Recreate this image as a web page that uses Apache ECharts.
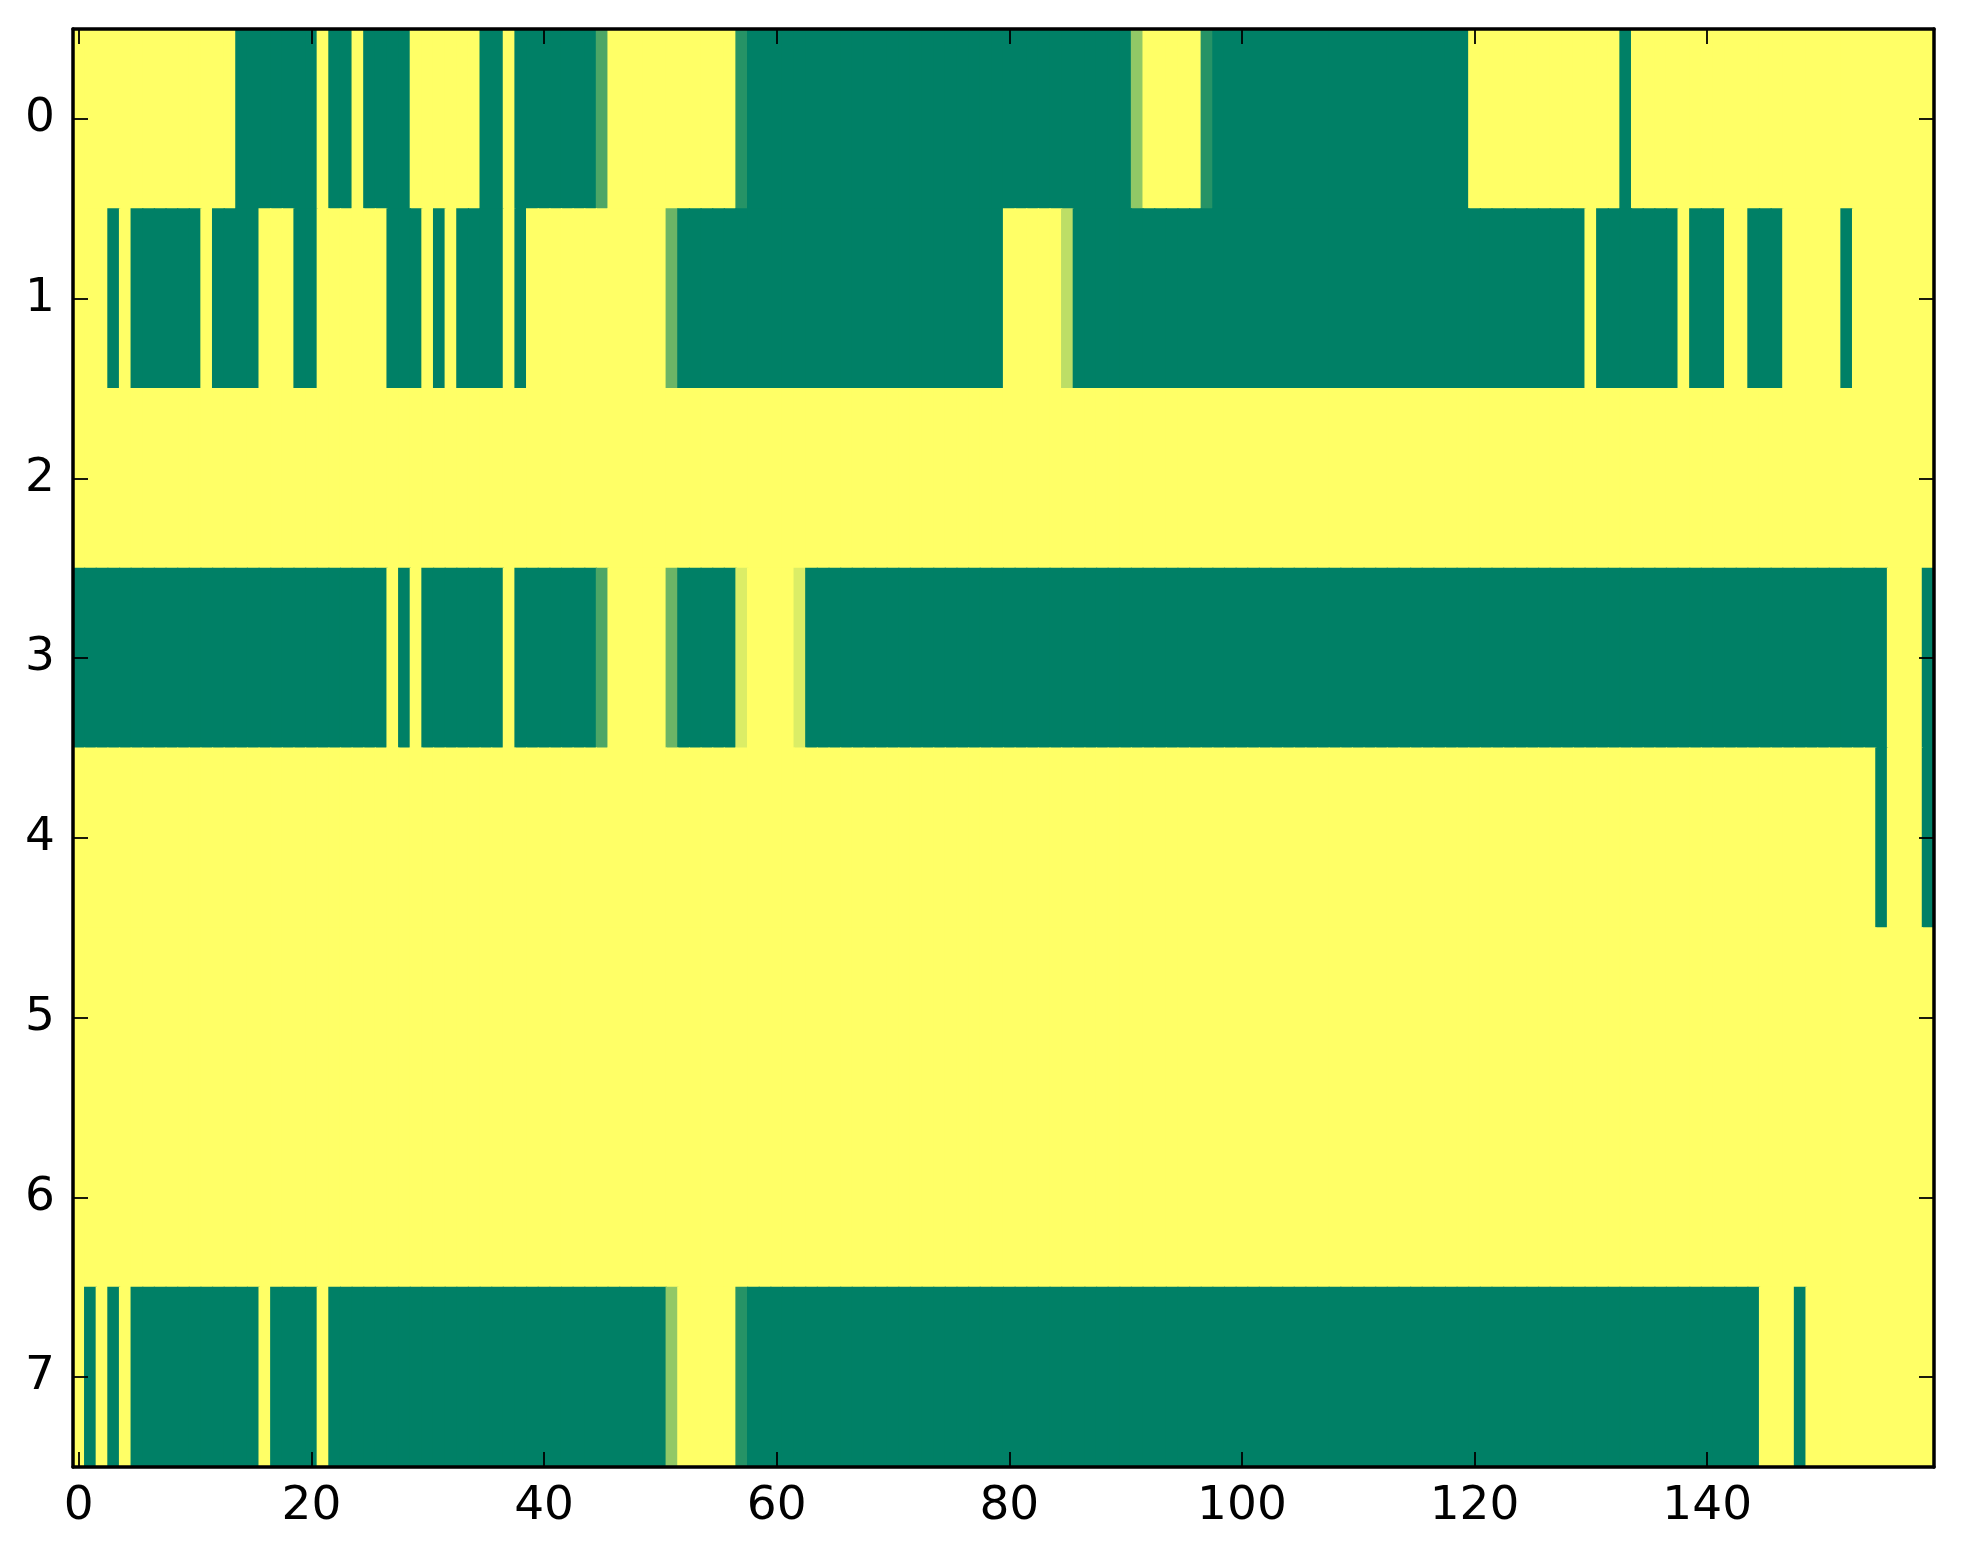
<!DOCTYPE html>
<html><head><meta charset="utf-8">
<script src="https://cdn.jsdelivr.net/npm/echarts@6/dist/echarts.min.js"></script>
<style>html,body{margin:0;padding:0;background:#fff}#c{width:1963px;height:1564px}</style>
</head><body><div id="c"></div>
<script>
const columns = Array.from({length: 160}, (_, i) => String(i));
const rowLabels = ['0','1','2','3','4','5','6','7'];
const xTickLabels = ['0','20','40','60','80','100','120','140'];

const row0 = [
1,1,1,1,1,1,1,1,1,1,1,1,1,1,0,0,0,0,0,0,
0,1,0,0,1,0,0,0,0,1,1,1,1,1,1,0,0,1,0,0,
0,0,0,0,0,0.3,1,1,1,1,1,1,1,1,1,1,1,0.15,0,0,
0,0,0,0,0,0,0,0,0,0,0,0,0,0,0,0,0,0,0,0,
0,0,0,0,0,0,0,0,0,0,0,0.57,1,1,1,1,1,0.15,0,0,
0,0,0,0,0,0,0,0,0,0,0,0,0,0,0,0,0,0,0,0,
1,1,1,1,1,1,1,1,1,1,1,1,1,0,1,1,1,1,1,1,
1,1,1,1,1,1,1,1,1,1,1,1,1,1,1,1,1,1,1,1];
const row1 = [
1,1,1,0,1,0,0,0,0,0,0,1,0,0,0,0,1,1,1,0,
0,1,1,1,1,1,1,0,0,0,1,0,1,0,0,0,0,1,0,1,
1,1,1,1,1,1,1,1,1,1,1,0.42,0,0,0,0,0,0,0,0,
0,0,0,0,0,0,0,0,0,0,0,0,0,0,0,0,0,0,0,0,
1,1,1,1,1,0.74,0,0,0,0,0,0,0,0,0,0,0,0,0,0,
0,0,0,0,0,0,0,0,0,0,0,0,0,0,0,0,0,0,0,0,
0,0,0,0,0,0,0,0,0,0,1,0,0,0,0,0,0,0,1,0,
0,0,1,1,0,0,0,1,1,1,1,1,0,1,1,1,1,1,1,1];
const row2 = [
1,1,1,1,1,1,1,1,1,1,1,1,1,1,1,1,1,1,1,1,
1,1,1,1,1,1,1,1,1,1,1,1,1,1,1,1,1,1,1,1,
1,1,1,1,1,1,1,1,1,1,1,1,1,1,1,1,1,1,1,1,
1,1,1,1,1,1,1,1,1,1,1,1,1,1,1,1,1,1,1,1,
1,1,1,1,1,1,1,1,1,1,1,1,1,1,1,1,1,1,1,1,
1,1,1,1,1,1,1,1,1,1,1,1,1,1,1,1,1,1,1,1,
1,1,1,1,1,1,1,1,1,1,1,1,1,1,1,1,1,1,1,1,
1,1,1,1,1,1,1,1,1,1,1,1,1,1,1,1,1,1,1,1];
const row3 = [
0,0,0,0,0,0,0,0,0,0,0,0,0,0,0,0,0,0,0,0,
0,0,0,0,0,0,0,1,0,1,0,0,0,0,0,0,0,1,0,0,
0,0,0,0,0,0.3,1,1,1,1,1,0.42,0,0,0,0,0,0.86,1,1,
1,1,0.86,0,0,0,0,0,0,0,0,0,0,0,0,0,0,0,0,0,
0,0,0,0,0,0,0,0,0,0,0,0,0,0,0,0,0,0,0,0,
0,0,0,0,0,0,0,0,0,0,0,0,0,0,0,0,0,0,0,0,
0,0,0,0,0,0,0,0,0,0,0,0,0,0,0,0,0,0,0,0,
0,0,0,0,0,0,0,0,0,0,0,0,0,0,0,0,1,1,1,0];
const row4 = [
1,1,1,1,1,1,1,1,1,1,1,1,1,1,1,1,1,1,1,1,
1,1,1,1,1,1,1,1,1,1,1,1,1,1,1,1,1,1,1,1,
1,1,1,1,1,1,1,1,1,1,1,1,1,1,1,1,1,1,1,1,
1,1,1,1,1,1,1,1,1,1,1,1,1,1,1,1,1,1,1,1,
1,1,1,1,1,1,1,1,1,1,1,1,1,1,1,1,1,1,1,1,
1,1,1,1,1,1,1,1,1,1,1,1,1,1,1,1,1,1,1,1,
1,1,1,1,1,1,1,1,1,1,1,1,1,1,1,1,1,1,1,1,
1,1,1,1,1,1,1,1,1,1,1,1,1,1,1,0,1,1,1,0];
const row5 = [
1,1,1,1,1,1,1,1,1,1,1,1,1,1,1,1,1,1,1,1,
1,1,1,1,1,1,1,1,1,1,1,1,1,1,1,1,1,1,1,1,
1,1,1,1,1,1,1,1,1,1,1,1,1,1,1,1,1,1,1,1,
1,1,1,1,1,1,1,1,1,1,1,1,1,1,1,1,1,1,1,1,
1,1,1,1,1,1,1,1,1,1,1,1,1,1,1,1,1,1,1,1,
1,1,1,1,1,1,1,1,1,1,1,1,1,1,1,1,1,1,1,1,
1,1,1,1,1,1,1,1,1,1,1,1,1,1,1,1,1,1,1,1,
1,1,1,1,1,1,1,1,1,1,1,1,1,1,1,1,1,1,1,1];
const row6 = [
1,1,1,1,1,1,1,1,1,1,1,1,1,1,1,1,1,1,1,1,
1,1,1,1,1,1,1,1,1,1,1,1,1,1,1,1,1,1,1,1,
1,1,1,1,1,1,1,1,1,1,1,1,1,1,1,1,1,1,1,1,
1,1,1,1,1,1,1,1,1,1,1,1,1,1,1,1,1,1,1,1,
1,1,1,1,1,1,1,1,1,1,1,1,1,1,1,1,1,1,1,1,
1,1,1,1,1,1,1,1,1,1,1,1,1,1,1,1,1,1,1,1,
1,1,1,1,1,1,1,1,1,1,1,1,1,1,1,1,1,1,1,1,
1,1,1,1,1,1,1,1,1,1,1,1,1,1,1,1,1,1,1,1];
const row7 = [
1,0,1,0,1,0,0,0,0,0,0,0,0,0,0,0,1,0,0,0,
0,1,0,0,0,0,0,0,0,0,0,0,0,0,0,0,0,0,0,0,
0,0,0,0,0,0,0,0,0,0,0,0.57,1,1,1,1,1,0.15,0,0,
0,0,0,0,0,0,0,0,0,0,0,0,0,0,0,0,0,0,0,0,
0,0,0,0,0,0,0,0,0,0,0,0,0,0,0,0,0,0,0,0,
0,0,0,0,0,0,0,0,0,0,0,0,0,0,0,0,0,0,0,0,
0,0,0,0,0,0,0,0,0,0,0,0,0,0,0,0,0,0,0,0,
0,0,0,0,0,1,1,1,0,1,1,1,1,1,1,1,1,1,1,1];

const rows = [row0, row1, row2, row3, row4, row5, row6, row7];
const cells = [];
rows.forEach((r, y) => r.forEach((v, x) => cells.push([x, y, v])));

const FONT = 'DejaVu Sans';
const showTick = (idx, val) => xTickLabels.indexOf(val) >= 0;
const axisLine = { show: true, lineStyle: { color: '#000', width: 3.5 } };
const tick = { show: true, inside: true, length: 15, alignWithLabel: true, lineStyle: { color: '#000', width: 1.8 } };

function renderCell(params, api) {
  const c = api.coord([api.value(0), api.value(1)]);
  const s = api.size([1, 1]);
  const gx = params.coordSys.x, gy = params.coordSys.y;
  const gw = params.coordSys.width, gh = params.coordSys.height;
  let x0 = Math.max(gx, c[0] - s[0] / 2 - 0.6);
  let x1 = Math.min(gx + gw, c[0] + s[0] / 2 + 0.6);
  let y0 = Math.max(gy, c[1] - s[1] / 2 - 0.6);
  let y1 = Math.min(gy + gh, c[1] + s[1] / 2 + 0.6);
  return { type: 'rect', shape: { x: x0, y: y0, width: x1 - x0, height: y1 - y0 },
    style: { fill: api.visual('color') } };
}

const chart = echarts.init(document.getElementById('c'), null, { renderer: 'canvas' });
chart.setOption({
  animation: false,
  backgroundColor: '#fff',
  grid: { left: 73, top: 29, width: 1861, height: 1438, containLabel: false },
  visualMap: { type: 'continuous', show: false, min: 0, max: 1, dimension: 2,
    inRange: { color: ['#008066', '#ffff66'] } },
  xAxis: [
    { type: 'category', data: columns, position: 'bottom', z: 5,
      axisLine: axisLine,
      axisTick: Object.assign({}, tick, { interval: showTick }),
      axisLabel: { interval: showTick, color: '#000', fontFamily: FONT, fontSize: 47, margin: 16 },
      splitLine: { show: false }, splitArea: { show: false } },
    { type: 'category', data: columns, position: 'top', z: 5,
      axisLine: axisLine,
      axisTick: Object.assign({}, tick, { interval: showTick }),
      axisLabel: { show: false },
      splitLine: { show: false }, splitArea: { show: false } }
  ],
  yAxis: [
    { type: 'category', data: rowLabels, inverse: true, position: 'left', z: 5,
      axisLine: axisLine,
      axisTick: Object.assign({}, tick, { interval: 0 }),
      axisLabel: { interval: 0, color: '#000', fontFamily: FONT, fontSize: 47, margin: 18 },
      splitLine: { show: false }, splitArea: { show: false } },
    { type: 'category', data: rowLabels, inverse: true, position: 'right', z: 5,
      axisLine: axisLine,
      axisTick: Object.assign({}, tick, { interval: 0 }),
      axisLabel: { show: false },
      splitLine: { show: false }, splitArea: { show: false } }
  ],
  series: [{
    type: 'custom', xAxisIndex: 0, yAxisIndex: 0, data: cells,
    encode: { x: 0, y: 1 },
    renderItem: renderCell,
    silent: true
  }]
});
</script></body></html>
